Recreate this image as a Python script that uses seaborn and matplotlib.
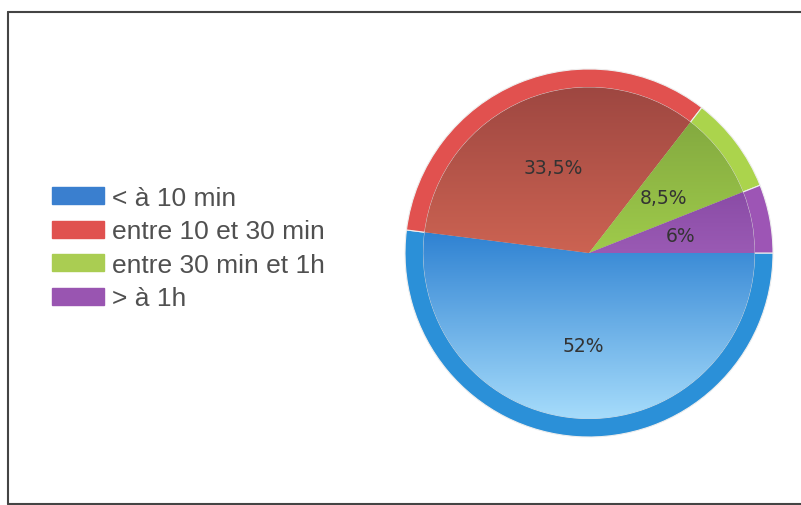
import numpy as np
import matplotlib
matplotlib.use("Agg")
import matplotlib.pyplot as plt
from matplotlib.lines import Line2D
from matplotlib.colors import LinearSegmentedColormap
import seaborn as sns

# Données
categories = ["< à 10 min", "entre 10 et 30 min", "entre 30 min et 1h", "> à 1h"]
valeurs = [52, 33.5, 8.5, 6]

# Couleurs : anneau extérieur, intérieur (dégradé haut -> bas), légende
couleurs_anneau = ["#2b90d8", "#e1514f", "#abd44c", "#9d55b5"]
degrades = [("#2f82d2", "#a6dcfb"), ("#9e4741", "#cc6352"),
            ("#84aa40", "#9fcb4b"), ("#8a4ca6", "#9a5ab4")]
couleurs_legende = ["#3a7fcf", "#e0514f", "#aacd52", "#9955b1"]

sns.set_theme(style="white")
plt.rcParams['font.family'] = ['Liberation Sans', 'DejaVu Sans']

fig = plt.figure(figsize=(8.01, 5.06), dpi=100)
fig.patch.set_facecolor("white")

# Axe du camembert : centre (589, 254), rayon 184 px
cx, cy, r = 589, 254, 184
ax = fig.add_axes([(cx - r) / 801, (506 - cy - r) / 506, 2 * r / 801, 2 * r / 506])

# Anneau extérieur
parts_ext, _ = ax.pie(valeurs, startangle=0, counterclock=False, radius=1.0,
                      colors=couleurs_anneau,
                      wedgeprops=dict(edgecolor="#eeeeee", linewidth=0.8))

# Partie intérieure avec dégradé
parts_int, textes, autotextes = ax.pie(
    valeurs, startangle=0, counterclock=False, radius=0.9,
    colors=[d[0] for d in degrades], pctdistance=0.56,
    autopct=lambda p: f"{p:.1f}".rstrip("0").rstrip(".").replace(".", ",") + "%",
    wedgeprops=dict(edgecolor="#dddddd", linewidth=0.6),
    textprops=dict(fontsize=13.5, color="#333333", family="DejaVu Sans"))

grad = np.linspace(0, 1, 256).reshape(-1, 1)
for w, (c_haut, c_bas) in zip(parts_int, degrades):
    cmap = LinearSegmentedColormap.from_list("g", [c_bas, c_haut])
    bb = w.get_path().get_extents()
    im = ax.imshow(grad, cmap=cmap, extent=(bb.x0, bb.x1, bb.y0, bb.y1),
                   aspect="auto", origin="lower", zorder=w.get_zorder())
    im.set_clip_path(w)
for t in autotextes:
    t.set_zorder(5)

ax.set_xlim(-1, 1)
ax.set_ylim(-1, 1)
ax.set_aspect("equal")
ax.axis("off")

# Légende
handles = [plt.Rectangle((0, 0), 1, 1, color=c) for c in couleurs_legende]
fig.legend(handles, categories, loc="upper left",
           bbox_to_anchor=(52 / 801, 1 - 187 / 506), frameon=False,
           fontsize=19, labelcolor="#505050", handlelength=1.97,
           handleheight=0.6, handletextpad=0.3, labelspacing=0.36,
           borderpad=0, borderaxespad=0)

# Cadre
bord = "#444444"
fig.add_artist(Line2D([8 / 801, 1], [1 - 13 / 506] * 2, color=bord, lw=1.5))
fig.add_artist(Line2D([8 / 801] * 2, [1 - 13 / 506, 1 - 505 / 506], color=bord, lw=1.5))
fig.add_artist(Line2D([8 / 801, 1], [1 - 505 / 506] * 2, color=bord, lw=1.5))

fig.savefig("out.png", dpi=100)
